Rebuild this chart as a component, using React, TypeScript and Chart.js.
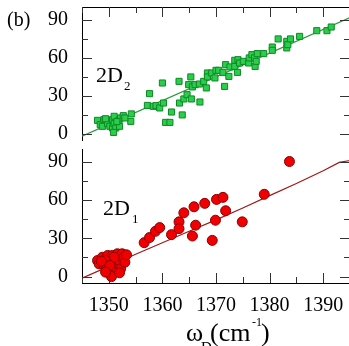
import React, { useEffect, useRef } from "react";
import { Chart, registerables } from "chart.js";

Chart.register(...registerables);

// ---- axis ranges & ticks ----
const xMin = 1345;
const xMax = 1395;
const yMin = -5;
const yMax = 100;
const xMajorTicks = [1350, 1360, 1370, 1380, 1390];
const xMinorTicks = [1345, 1355, 1365, 1375, 1385, 1395];
const yMajorTicks = [0, 30, 60, 90];
const yMinorTicks = [15, 45, 75];

// ---- 2D2 (top panel): measured points [omega_D, value] ----
const points2D2: [number, number][] = [
  [1347.9, 10.5], [1348.4, 7.1], [1349.1, 11.1], [1348.8, 5.8], [1349.8, 7.9],
  [1350.2, 5.8], [1350.7, 11.1], [1350.7, 4.5], [1351.0, 13.7], [1351.0, 7.9],
  [1351.3, 4.5], [1350.9, 1.0], [1351.9, 10.5], [1352.2, 12.4], [1352.7, 14.2],
  [1352.0, 5.8], [1354.1, 9.7], [1354.2, 15.6], [1353.0, 12.4], [1351.5, 9.5],
  [1349.4, 11.8],
  [1357.6, 31.6], [1357.2, 22.3], [1358.3, 21.6], [1358.8, 22.1], [1359.5, 20.3],
  [1360.2, 24.2], [1360.0, 40.0], [1360.6, 8.9], [1361.4, 8.9], [1361.7, 17.1],
  [1363.1, 41.3], [1363.2, 24.2], [1363.7, 14.8], [1364.0, 27.4], [1364.6, 30.8],
  [1364.9, 38.7], [1365.3, 44.8], [1365.4, 27.4], [1365.6, 36.9], [1366.1, 38.7],
  [1366.9, 39.2], [1367.0, 25.0], [1367.7, 41.3], [1368.2, 36.1], [1368.4, 47.9],
  [1368.4, 44.8], [1369.2, 47.9], [1369.8, 44.0], [1370.0, 50.0], [1370.5, 50.0],
  [1371.3, 48.4], [1371.6, 37.3], [1371.8, 54.5], [1372.4, 45.2], [1372.6, 52.7],
  [1373.5, 57.9], [1373.5, 53.1], [1374.0, 48.4], [1374.1, 58.4], [1374.4, 55.8],
  [1375.1, 57.1], [1376.1, 55.8], [1376.2, 59.8], [1376.7, 62.4], [1377.2, 59.8],
  [1377.3, 53.1], [1377.5, 57.1], [1377.7, 63.2], [1378.9, 63.2], [1380.5, 68.4],
  [1380.5, 65.8], [1381.6, 74.8], [1383.2, 72.9], [1383.2, 67.7], [1383.4, 70.3],
  [1383.9, 74.8], [1385.6, 76.8], [1388.8, 81.3], [1390.7, 81.3], [1391.5, 84.2],
];
const fit2D2: [number, number][] = [
  [1345, -2.0],
  [1395, 91.6],
];

// ---- 2D1 (bottom panel) ----
const points2D1: [number, number][] = [
  [1347.9, 12.6], [1348.2, 10.0], [1348.8, 15.2], [1349.1, 8.7], [1349.6, 6.1],
  [1349.8, 16.6], [1350.1, 11.3], [1350.4, 4.7], [1350.5, 0.0], [1350.7, 16.6],
  [1351.0, 10.0], [1351.3, 7.3], [1351.6, 17.9], [1351.9, 12.6], [1352.2, 6.1],
  [1352.5, 17.9], [1352.7, 14.8], [1353.0, 11.3], [1353.3, 17.1], [1351.0, 15.2],
  [1349.4, 12.6], [1350.2, 8.7], [1349.4, 3.5], [1352.0, 3.0], [1348.6, 12.0],
  [1356.6, 26.6], [1357.6, 30.6], [1358.7, 35.5], [1359.5, 38.4], [1361.7, 32.9],
  [1363.1, 42.9], [1363.1, 37.6], [1364.0, 50.0], [1365.9, 54.7], [1366.2, 40.3],
  [1365.6, 31.8], [1367.9, 57.4], [1369.3, 28.4], [1369.9, 44.2], [1370.1, 60.5],
  [1371.3, 62.1], [1371.8, 51.6], [1374.9, 42.9], [1379.0, 64.5], [1383.7, 90.2],
];
const fit2D1: [number, number][] = [
  [1345, -1.2], [1350, 8.0], [1355, 17.5], [1360, 26.5], [1365, 35.5],
  [1370, 44.5], [1375, 53.8], [1380, 63.5], [1385, 73.0], [1390, 83.0],
  [1393, 89.5], [1395, 91.0],
];

const FONT = '"Liberation Serif", "Times New Roman", serif';
const CANVAS_W = 356;

function toXY(arr: [number, number][]) {
  return arr.map(([x, y]) => ({ x, y }));
}

function zeroPad(s: any) {
  s.paddingTop = 0;
  s.paddingBottom = 0;
  s.paddingLeft = 0;
  s.paddingRight = 0;
}

function tickPlugin(side: "top" | "bottom") {
  return {
    id: "inwardTicks",
    afterDatasetsDraw(chart: any) {
      const { ctx, chartArea: a, scales } = chart;
      const xs = scales.x;
      const ys = scales.y;
      ctx.save();
      ctx.strokeStyle = "#333";
      ctx.lineWidth = 1;
      ctx.beginPath();
      const yEdge = side === "top" ? a.top : a.bottom;
      const dir = side === "top" ? 1 : -1;
      const xt = (v: number, len: number) => {
        const px = Math.round(xs.getPixelForValue(v)) + 0.5;
        ctx.moveTo(px, yEdge);
        ctx.lineTo(px, yEdge + dir * len);
      };
      xMajorTicks.forEach((v) => xt(v, 10));
      xMinorTicks.forEach((v) => xt(v, 6));
      const yt = (v: number, len: number) => {
        const py = Math.round(ys.getPixelForValue(v)) + 0.5;
        ctx.moveTo(a.left, py);
        ctx.lineTo(a.left + len, py);
        ctx.moveTo(a.right, py);
        ctx.lineTo(a.right - len, py);
      };
      yMajorTicks.forEach((v) => yt(v, 10));
      yMinorTicks.forEach((v) => yt(v, 6));
      ctx.stroke();
      ctx.restore();
    },
  };
}

function textPlugin(items: { t: string; x: number; y: number; s: number }[]) {
  return {
    id: "texts",
    afterDraw(chart: any) {
      const ctx = chart.ctx;
      ctx.save();
      ctx.fillStyle = "#000";
      ctx.textBaseline = "alphabetic";
      ctx.textAlign = "left";
      items.forEach((it) => {
        ctx.font = `${it.s}px ${FONT}`;
        ctx.fillText(it.t, it.x, it.y);
      });
      ctx.restore();
    },
  };
}

function yScale() {
  return {
    type: "linear",
    position: "left",
    min: yMin,
    max: yMax,
    afterBuildTicks: (s: any) => {
      s.ticks = yMajorTicks.map((v) => ({ value: v }));
    },
    ticks: {
      padding: 14,
      color: "#000",
      font: { family: FONT, size: 20 },
      callback: (v: any) => String(v),
    },
    grid: { drawOnChartArea: false, drawTicks: false },
    border: { display: true, color: "#000", width: 1 },
    afterFit: (s: any) => {
      s.width = 82;
      zeroPad(s);
    },
  };
}

export default function App() {
  const topRef = useRef<HTMLCanvasElement>(null);
  const botRef = useRef<HTMLCanvasElement>(null);

  useEffect(() => {
    const top = new Chart(topRef.current as HTMLCanvasElement, {
      type: "scatter",
      data: {
        datasets: [
          {
            data: toXY(points2D2),
            pointStyle: "rect",
            pointRadius: 4.3,
            backgroundColor: "#2ccc4c",
            borderColor: "#0c8a24",
            borderWidth: 1,
          },
          {
            data: toXY(fit2D2),
            showLine: true,
            pointRadius: 0,
            borderColor: "#2a9a38",
            borderWidth: 1.2,
          },
        ],
      },
      options: {
        animation: false,
        responsive: false,
        devicePixelRatio: 1,
        layout: { autoPadding: false, padding: { left: 0, right: 6, top: 7, bottom: 6 } },
        plugins: { legend: { display: false }, tooltip: { enabled: false } },
        scales: {
          x: {
            type: "linear",
            position: "top",
            min: xMin,
            max: xMax,
            ticks: { display: false },
            grid: { drawOnChartArea: false, drawTicks: false },
            border: { display: true, color: "#000", width: 1 },
            afterFit: (s: any) => {
              s.height = 0;
              zeroPad(s);
            },
          },
          y: yScale(),
        },
      } as any,
      plugins: [
        tickPlugin("top"),
        textPlugin([
          { t: "(b)", x: 7, y: 26, s: 20 },
          { t: "2D", x: 96, y: 82, s: 22 },
          { t: "2", x: 124, y: 90, s: 13 },
        ]),
      ],
    });

    const bot = new Chart(botRef.current as HTMLCanvasElement, {
      type: "scatter",
      data: {
        datasets: [
          {
            data: toXY(points2D1),
            pointStyle: "circle",
            pointRadius: 5,
            backgroundColor: "#f00000",
            borderColor: "#8a0000",
            borderWidth: 1,
          },
          {
            data: toXY(fit2D1),
            showLine: true,
            pointRadius: 0,
            borderColor: "#a01818",
            borderWidth: 1.2,
          },
        ],
      },
      options: {
        animation: false,
        responsive: false,
        devicePixelRatio: 1,
        layout: { autoPadding: false, padding: { left: 0, right: 6, top: 3, bottom: 0 } },
        plugins: { legend: { display: false }, tooltip: { enabled: false } },
        scales: {
          x: {
            type: "linear",
            position: "bottom",
            min: xMin,
            max: xMax,
            afterBuildTicks: (s: any) => {
              s.ticks = xMajorTicks.map((v) => ({ value: v }));
            },
            ticks: {
              padding: 11,
              color: "#000",
              maxRotation: 0,
              autoSkip: false,
              font: { family: FONT, size: 20 },
              callback: (v: any) => String(v),
            },
            grid: { drawOnChartArea: false, drawTicks: false },
            border: { display: true, color: "#000", width: 1 },
            afterFit: (s: any) => {
              s.height = 63;
              zeroPad(s);
            },
          },
          y: yScale(),
        },
      } as any,
      plugins: [
        tickPlugin("bottom"),
        textPlugin([
          { t: "2D", x: 103, y: 69, s: 22 },
          { t: "1", x: 132, y: 77, s: 13 },
          { t: "\u03c9", x: 186, y: 195, s: 26 },
          { t: "D", x: 201, y: 206, s: 15 },
          { t: "(cm", x: 210, y: 195, s: 26 },
          { t: "-1", x: 252, y: 180, s: 12 },
          { t: ")", x: 261, y: 195, s: 26 },
        ]),
      ],
    });

    return () => {
      top.destroy();
      bot.destroy();
    };
  }, []);

  return (
    <div
      style={{
        position: "absolute",
        left: 0,
        top: 0,
        width: 349,
        height: 346,
        overflow: "hidden",
        background: "#fff",
      }}
    >
      <canvas
        ref={topRef}
        width={CANVAS_W}
        height={146}
        style={{ position: "absolute", left: 0, top: 0, display: "block" }}
      />
      <canvas
        ref={botRef}
        width={CANVAS_W}
        height={200}
        style={{ position: "absolute", left: 0, top: 146, display: "block" }}
      />
    </div>
  );
}
